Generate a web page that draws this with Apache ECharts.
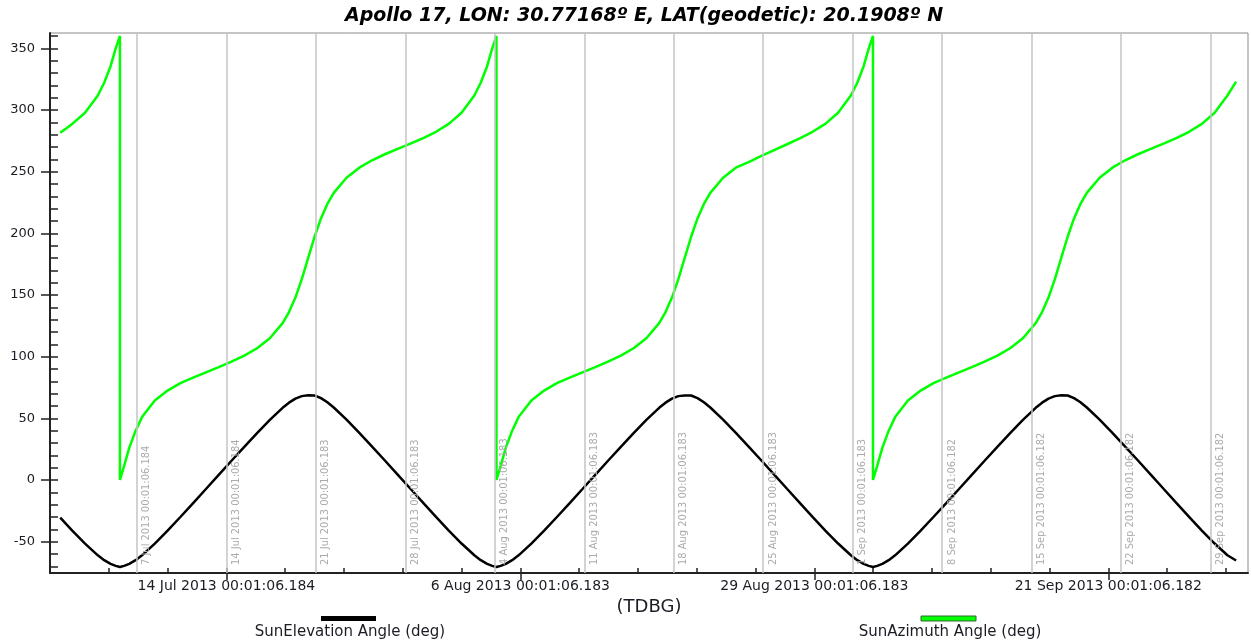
<!DOCTYPE html>
<html>
<head>
<meta charset="utf-8">
<script src="https://cdn.jsdelivr.net/npm/echarts@6/dist/echarts.min.js"></script>
<style>html,body{margin:0;padding:0;background:#fff}#c{width:1251px;height:640px}</style>
</head>
<body>
<div id="c"></div>
<script>
// Days since 1 Jul 2013 00:01:06 (TDB)
const dayOffsets = [
  0, 0.94, 1.94, 2.94, 3.44, 3.94, 4.34, 4.67, 4.67,
  5.00, 5.40, 5.90, 6.40, 7.40, 8.40, 9.40, 10.40, 11.40, 12.40, 13.40, 14.40, 15.40, 16.40, 17.40, 17.90, 18.40, 18.90, 19.40, 19.90, 20.40, 20.90, 21.40, 22.40, 23.40, 24.40, 25.40, 26.40, 27.40, 28.40, 29.40, 30.40, 31.40, 32.40, 32.90, 33.40, 33.80, 34.13, 34.13,
  34.46, 34.86, 35.36, 35.86, 36.86, 37.86, 38.86, 39.86, 40.86, 41.86, 42.86, 43.86, 44.86, 45.86, 46.86, 47.36, 47.86, 48.36, 48.86, 49.36, 49.86, 50.36, 50.86, 51.86, 52.86, 53.86, 54.86, 55.86, 56.86, 57.86, 58.86, 59.86, 60.86, 61.86, 62.36, 62.86, 63.26, 63.59, 63.59,
  63.92, 64.32, 64.82, 65.32, 66.32, 67.32, 68.32, 69.32, 70.32, 71.32, 72.32, 73.32, 74.32, 75.32, 76.32, 76.82, 77.32, 77.82, 78.32, 78.82, 79.32, 79.82, 80.32, 81.32, 82.32, 83.32, 84.32, 85.32, 86.32, 87.32, 88.32, 89.32, 90.32, 91.32, 92.00
];
const sunElevation = [
  -30.5, -41.1, -51.6, -61.1, -65.0, -68.0, -69.6, -70.5, -70.5,
  -69.6, -68.0, -65.0, -61.1, -51.6, -41.1, -30.0, -18.7, -7.3, 4.2, 15.6, 26.9, 38.0, 48.7, 58.5, 62.7, 66.0, 68.0, 68.7, 68.5, 66.4, 63.0, 58.8, 49.0, 38.2, 27.1, 15.8, 4.4, -7.1, -18.5, -29.9, -41.0, -51.5, -61.0, -65.0, -68.0, -69.6, -70.5, -70.5,
  -69.6, -68.0, -65.0, -61.1, -51.6, -41.1, -30.0, -18.7, -7.3, 4.2, 15.6, 26.9, 38.0, 48.7, 58.5, 62.7, 66.0, 68.0, 68.6, 68.5, 66.4, 63.0, 58.8, 49.0, 38.2, 27.1, 15.8, 4.4, -7.1, -18.5, -29.9, -41.0, -51.5, -61.0, -65.0, -68.0, -69.6, -70.5, -70.5,
  -69.6, -68.0, -65.0, -61.1, -51.6, -41.1, -30.0, -18.7, -7.3, 4.2, 15.6, 26.9, 38.0, 48.7, 58.5, 62.7, 66.0, 68.0, 68.7, 68.5, 66.4, 63.0, 58.8, 49.0, 38.2, 27.1, 15.8, 4.4, -7.1, -18.5, -29.9, -41.0, -51.5, -61.0, -65.3
];
const sunAzimuth = [
  281.5, 288.7, 297.7, 311.7, 322.1, 335.5, 350.0, 360.0, 0.0,
  11.5, 26.0, 40.0, 51.0, 64.5, 72.5, 78.5, 83.0, 87.3, 91.5, 95.9, 100.8, 106.8, 114.9, 127.2, 136.2, 147.9, 162.8, 180.0, 197.2, 212.1, 223.8, 232.8, 245.1, 253.2, 259.2, 264.1, 268.5, 272.7, 277.2, 282.3, 288.7, 297.7, 311.7, 322.1, 335.5, 350.0, 360.0, 0.0,
  11.5, 26.0, 40.0, 51.0, 64.5, 72.5, 78.5, 83.0, 87.3, 91.5, 95.9, 100.8, 106.8, 114.9, 127.2, 136.2, 147.9, 162.8, 180.0, 197.2, 212.1, 223.8, 232.8, 245.1, 253.2, 257.8, 262.8, 267.5, 272.2, 277.0, 282.3, 288.7, 297.7, 311.7, 322.1, 335.5, 350.0, 360.0, 0.0,
  11.5, 26.0, 40.0, 51.0, 64.5, 72.5, 78.5, 83.0, 87.3, 91.5, 95.9, 100.8, 106.8, 114.9, 127.2, 136.2, 147.9, 162.8, 180.0, 197.2, 212.1, 223.8, 232.8, 245.1, 253.2, 259.2, 264.1, 268.5, 272.7, 277.2, 282.3, 288.7, 297.7, 311.7, 323.0
];
const majorTickDays = [13, 36, 59, 82];
const majorTickLabels = ['14 Jul 2013 00:01:06.184', '6 Aug 2013 00:01:06.183', '29 Aug 2013 00:01:06.183', '21 Sep 2013 00:01:06.182'];
const minorTickDays = [-0.8, 3.8, 8.4, 13, 17.6, 22.2, 26.8, 31.4, 36, 40.6, 45.2, 49.8, 54.4, 59, 63.6, 68.2, 72.8, 77.4, 82, 86.6, 91.2];
const gridDays = [6, 13, 20, 27, 34, 41, 48, 55, 62, 69, 76, 83, 90];
const gridLabels = ['7 Jul 2013 00:01:06.184', '14 Jul 2013 00:01:06.184', '21 Jul 2013 00:01:06.183', '28 Jul 2013 00:01:06.183', '4 Aug 2013 00:01:06.183', '11 Aug 2013 00:01:06.183', '18 Aug 2013 00:01:06.183', '25 Aug 2013 00:01:06.183', '1 Sep 2013 00:01:06.183', '8 Sep 2013 00:01:06.182', '15 Sep 2013 00:01:06.182', '22 Sep 2013 00:01:06.182', '29 Sep 2013 00:01:06.182'];
const yMajorTicks = [-50, 0, 50, 100, 150, 200, 250, 300, 350];
const yMinorTicks = [-70, -60, -50, -40, -30, -20, -10, 0, 10, 20, 30, 40, 50, 60, 70, 80, 90, 100, 110, 120, 130, 140, 150, 160, 170, 180, 190, 200, 210, 220, 230, 240, 250, 260, 270, 280, 290, 300, 310, 320, 330, 340, 350, 360];
const titleText = 'Apollo 17, LON: 30.77168º E, LAT(geodetic): 20.1908º N';
const seriesNames = ['SunElevation Angle (deg)', 'SunAzimuth Angle (deg)'];
const xAxisName = '(TDBG)';

const FONT = "'DejaVu Sans', Verdana, sans-serif";
const NARROW = "'Liberation Sans Narrow', 'Arial Narrow', 'DejaVu Sans Condensed', sans-serif";
const X_MIN = -0.8, X_MAX = 92.93, Y_MIN = -75.4, Y_MAX = 362.4;

function majorLabel(v) {
  for (let i = 0; i < majorTickDays.length; i++) {
    if (Math.abs(majorTickDays[i] - v) < 1e-6) return majorTickLabels[i];
  }
  return '';
}

const chart = echarts.init(document.getElementById('c'));
chart.setOption({
  animation: false,
  backgroundColor: '#ffffff',
  title: {
    text: titleText, left: 644, textAlign: 'center', top: 7, padding: 0,
    textStyle: { fontFamily: FONT, fontSize: 19, fontWeight: 'bold', fontStyle: 'italic', color: '#000' }
  },
  grid: { left: 50, right: 3, top: 33, bottom: 67, show: true, borderColor: '#8a8a8a', borderWidth: 1, outerBoundsMode: 'none' },
  xAxis: [
    {
      type: 'value', min: X_MIN, max: X_MAX, position: 'bottom',
      axisLine: { show: true, onZero: false, lineStyle: { color: '#222', width: 2 } },
      axisTick: { show: true, customValues: majorTickDays, length: 7, lineStyle: { color: '#222', width: 1.5 } },
      axisLabel: { customValues: majorTickDays, formatter: majorLabel, margin: 6, fontFamily: FONT, fontSize: 14, color: '#1c1c24' },
      splitLine: { show: false },
      name: xAxisName, nameLocation: 'middle', nameGap: 23,
      nameTextStyle: { fontFamily: FONT, fontSize: 18, color: '#1c1c24' }
    },
    {
      type: 'value', min: X_MIN, max: X_MAX, position: 'bottom', offset: 0,
      axisLine: { show: false, onZero: false },
      axisTick: { show: true, inside: true, customValues: minorTickDays, length: 5, lineStyle: { color: '#222', width: 1.5 } },
      axisLabel: { show: false }, splitLine: { show: false }
    }
  ],
  yAxis: [
    {
      type: 'value', min: Y_MIN, max: Y_MAX, position: 'left',
      axisLine: { show: true, onZero: false, lineStyle: { color: '#222', width: 2 } },
      axisTick: { show: true, customValues: yMajorTicks, length: 9, lineStyle: { color: '#222', width: 1.5 } },
      axisLabel: { customValues: yMajorTicks, margin: 15, fontFamily: FONT, fontSize: 13, color: '#1c1c24' },
      splitLine: { show: false }
    },
    {
      type: 'value', min: Y_MIN, max: Y_MAX, position: 'left', offset: 0,
      axisLine: { show: false, onZero: false },
      axisTick: { show: true, inside: true, customValues: yMinorTicks, length: 8, lineStyle: { color: '#222', width: 1.5 } },
      axisLabel: { show: false }, splitLine: { show: false }
    }
  ],
  series: [
    {
      type: 'line', name: 'weekGrid', data: [], z: 1, silent: true,
      markLine: {
        silent: true, animation: false, symbol: ['none', 'none'],
        lineStyle: { color: '#c4c4c4', width: 1.5, type: 'solid' },
        label: { show: true, position: 'insideStartBottom', distance: [8, 4], fontFamily: NARROW, fontSize: 11, color: '#ababab' },
        emphasis: { disabled: true },
        data: gridDays.map((d, i) => ({ xAxis: d, label: { formatter: gridLabels[i] } }))
      }
    },
    {
      type: 'line', name: seriesNames[0], z: 3, symbol: 'none', showSymbol: false,
      data: dayOffsets.map((t, i) => [t, sunElevation[i]]),
      lineStyle: { color: '#000000', width: 2.5 }, itemStyle: { color: '#000000' }
    },
    {
      type: 'line', name: seriesNames[1], z: 4, symbol: 'none', showSymbol: false,
      data: dayOffsets.map((t, i) => [t, sunAzimuth[i]]),
      lineStyle: { color: '#00ff00', width: 2.5 }, itemStyle: { color: '#00ff00' }
    }
  ],
  graphic: [
    { type: 'rect', shape: { x: 321, y: 616, width: 55, height: 5 }, style: { fill: '#000000' } },
    { type: 'text', style: { text: seriesNames[0], x: 350, y: 632, align: 'center', verticalAlign: 'middle', textAlign: 'center', textVerticalAlign: 'middle', fontFamily: FONT, fontSize: 15, fill: '#1c1c24' } },
    { type: 'rect', shape: { x: 921, y: 616, width: 55, height: 5 }, style: { fill: '#00ff00', stroke: '#2f6b2f', lineWidth: 1 } },
    { type: 'text', style: { text: seriesNames[1], x: 950, y: 632, align: 'center', verticalAlign: 'middle', textAlign: 'center', textVerticalAlign: 'middle', fontFamily: FONT, fontSize: 15, fill: '#1c1c24' } }
  ]
});
</script>
</body>
</html>
